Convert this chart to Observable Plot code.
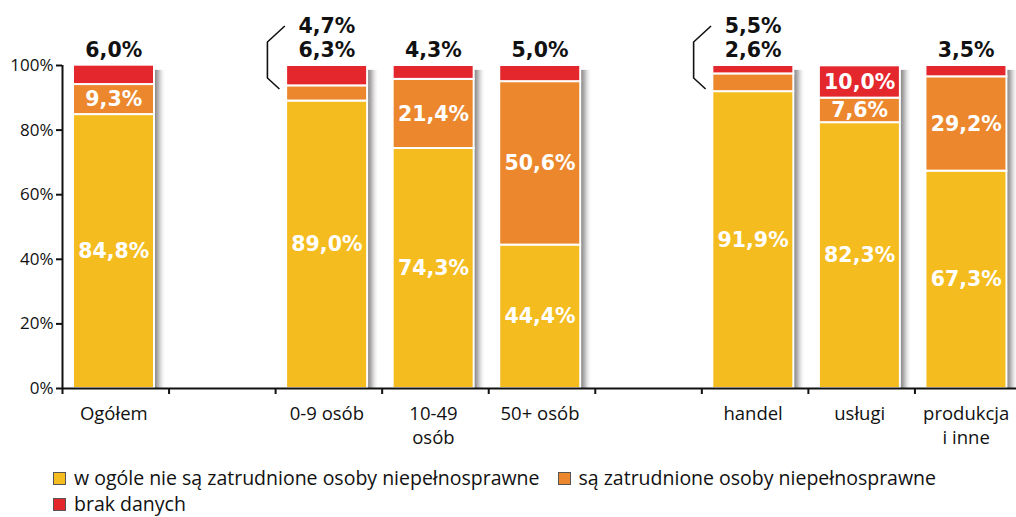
<!DOCTYPE html>
<html><head><meta charset="utf-8">
<script src="https://cdn.jsdelivr.net/npm/d3@7"></script>
<script src="https://cdn.jsdelivr.net/npm/@observablehq/plot@0.6"></script>
<style>
body{margin:0;background:#fff;font-family:"Open Sans",sans-serif;}
#legend{padding:11px 0 0 53px;width:950px;display:flex;flex-wrap:wrap;font-size:19.5px;line-height:26px;color:#111;}
.item{display:flex;align-items:center;margin-right:18px;}
.sw{width:11px;height:11px;border:1px solid #555;margin-right:8px;}
</style></head><body>
<div id="chart"></div><div id="legend"></div>
<script>
const categories = ["Ogółem","_gap1","0-9 osób","10-49\nosób","50+ osób","_gap2","handel","usługi","produkcja\ni inne"];
const seriesNames = ["w ogóle nie są zatrudnione osoby niepełnosprawne","są zatrudnione osoby niepełnosprawne","brak danych"];
const seriesColors = ["#F4BC1F","#EC872D","#E4262D"];
const notEmployed = [84.8,null,89.0,74.3,44.4,null,91.9,82.3,67.3];
const employed    = [9.3,null,4.7,21.4,50.6,null,5.5,7.6,29.2];
const noData      = [6.0,null,6.3,4.3,5.0,null,2.6,10.0,3.5];
const yTicks = [0,20,40,60,80,100];

const seriesValues = [notEmployed, employed, noData];
const fmt = v => d3.format(".1f")(v).replace(".", ",") + "%";
const insideMin = 7;

const rows = [], inside = [], outside = [];
categories.forEach((cat, i) => {
  if (notEmployed[i] == null) return;
  let acc = 0;
  const segs = seriesValues.map((vals, s) => {
    const r = {cat, series: seriesNames[s], value: vals[i], y0: acc, y1: acc + vals[i]};
    r.mid = (r.y0 + r.y1) / 2; r.label = fmt(vals[i]);
    acc += vals[i];
    return r;
  });
  segs.forEach(r => { rows.push(r); if (r.value >= insideMin) inside.push(r); });
  let level = 0;
  for (let s = segs.length - 1; s >= 0; s--) {
    if (segs[s].value < insideMin) { level++; outside.push({...segs[s], level}); }
  }
});
const bracketCats = categories.filter(c => outside.filter(o => o.cat === c).length > 1);
const presentCats = categories.filter((c, i) => notEmployed[i] != null);

const W = 1016, H = 454, mL = 62, mR = -5, mT = 65, mB = 66;
const step = (W - mL - mR) / categories.length;
const barInsetL = 11, barInsetR = step - 92;
const labelFont = "DejaVu Sans";
const labelSize = 20.5;

const bracket = (index, scales) => {
  const g = d3.create("svg:g");
  for (const cat of bracketCats) {
    const x0 = scales.x(cat) + barInsetL;
    const y = scales.y(100);
    const pts = [[x0 - 1.3, y - 39], [x0 - 18.7, y - 23], [x0 - 18.7, y + 13], [x0 - 6.7, y + 24]];
    g.append("path").attr("d", d3.line()(pts)).attr("fill", "none")
      .attr("stroke", "#111").attr("stroke-width", 1.6);
  }
  return g.node();
};

const chart = Plot.plot({
  width: W, height: H,
  marginLeft: mL, marginRight: mR, marginTop: mT, marginBottom: mB,
  x: {domain: categories, padding: 0, round: false, axis: null},
  y: {domain: [0, 100], axis: null},
  color: {domain: seriesNames, range: seriesColors},
  style: {fontFamily: "Open Sans", color: "#111", background: "#fff"},
  marks: [
    Plot.barY(presentCats, {x: d => d, y1: 0, y2: 98.5, fill: "url(#shadowGrad)", insetLeft: 92, insetRight: step - 104}),
    Plot.barY(rows, {x: "cat", y1: "y0", y2: "y1", fill: "series", stroke: "white", strokeWidth: 2, insetLeft: barInsetL, insetRight: barInsetR}),
    Plot.text(inside, {x: "cat", y: "mid", text: "label", fill: "white", fontWeight: "bold", fontSize: labelSize, fontFamily: labelFont, dx: -2}),
    Plot.text(outside.filter(d => d.level === 1), {x: "cat", y: 100, text: "label", fill: "#111", fontWeight: "bold", fontSize: labelSize, fontFamily: labelFont, dx: -2, dy: -15}),
    Plot.text(outside.filter(d => d.level === 2), {x: "cat", y: 100, text: "label", fill: "#111", fontWeight: "bold", fontSize: labelSize, fontFamily: labelFont, dx: -2, dy: -39}),
    Plot.axisY({ticks: yTicks, tickFormat: d => d + "%", tickSize: 6, tickPadding: 3, fontSize: 17, strokeWidth: 2, label: null}),
    Plot.ruleX([categories[0]], {y1: 0, y2: 100, dx: -step / 2, strokeWidth: 2}),
    Plot.ruleY([0], {strokeWidth: 2}),
    Plot.axisX({tickFormat: () => "", tickSize: 6, dx: -step / 2, strokeWidth: 2, label: null}),
    Plot.axisX({tickSize: 0, tickPadding: 14, fontSize: 18.5, lineHeight: 1.3, tickFormat: d => d.startsWith("_") ? "" : d, dx: -2, label: null}),
    bracket
  ]
});

const defs = d3.select(chart).insert("defs", ":first-child");
const grad = defs.append("linearGradient").attr("id", "shadowGrad").attr("x1", 0).attr("x2", 1).attr("y1", 0).attr("y2", 0);
grad.append("stop").attr("offset", 0).attr("stop-color", "#7d7b7b");
grad.append("stop").attr("offset", 0.35).attr("stop-color", "#b5b3b3");
grad.append("stop").attr("offset", 1).attr("stop-color", "#ffffff").attr("stop-opacity", 0);
document.getElementById("chart").appendChild(chart);

const legend = d3.select("#legend");
seriesNames.forEach((s, i) => {
  const it = legend.append("div").attr("class", "item");
  it.append("div").attr("class", "sw").style("background", seriesColors[i]);
  it.append("span").text(s);
});
</script>
</body></html>
